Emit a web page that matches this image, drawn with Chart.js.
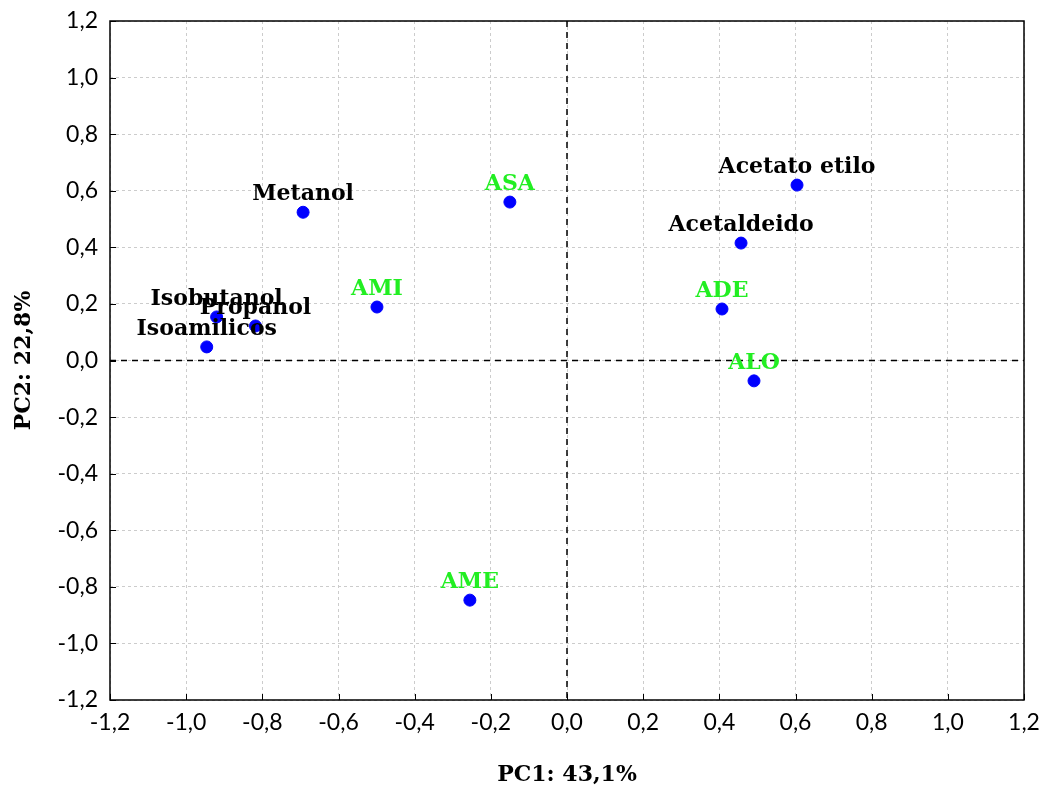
<!DOCTYPE html>
<html>
<head>
<meta charset="utf-8">
<script src="https://cdn.jsdelivr.net/npm/chart.js@4.4.1/dist/chart.umd.min.js"></script>
<style>
  html, body { margin: 0; padding: 0; background: #fff; }
  #wrap { width: 1046px; height: 789px; }
</style>
</head>
<body>
<div id="wrap"><canvas id="pcaChart" width="1046" height="789"></canvas></div>
<script>
// volatile compounds (loadings)
const varNames = ['Metanol', 'Isobutanol', 'Propanol', 'Isoamilicos', 'Acetaldeido', 'Acetato etilo'];
const varPC1 = [-0.693, -0.920, -0.818, -0.946, 0.457, 0.604];
const varPC2 = [0.524, 0.154, 0.122, 0.048, 0.415, 0.620];

// samples (scores)
const sampleNames = ['ASA', 'AMI', 'ADE', 'ALO', 'AME'];
const samplePC1 = [-0.150, -0.499, 0.407, 0.491, -0.255];
const samplePC2 = [0.560, 0.189, 0.182, -0.072, -0.847];

const axisMin = -1.2;
const axisMax = 1.2;
const axisStep = 0.2;

const tickFont = { family: 'Lato, "Noto Sans", sans-serif', size: 23 };
const serifBold = '"DejaVu Serif", "Liberation Serif", serif';

function toPoints(xs, ys) {
  return xs.map((x, i) => ({ x, y: ys[i] }));
}

function fmt(v) {
  return (Math.round(v * 10) / 10).toFixed(1).replace('.', ',').replace('-0,0', '0,0');
}

/* ================= PLUGIN: frame, zero lines, labels ================= */

const pcaDecor = {
  id: 'pcaDecor',
  beforeDatasetsDraw(chart) {
    const { ctx, chartArea: a, scales: { x, y } } = chart;
    ctx.save();

    // dashed zero lines
    ctx.strokeStyle = '#000';
    ctx.lineWidth = 1.5;
    ctx.setLineDash([6, 5]);
    const x0 = x.getPixelForValue(0);
    const y0 = y.getPixelForValue(0);
    ctx.beginPath();
    ctx.moveTo(x0, a.top); ctx.lineTo(x0, a.bottom);
    ctx.moveTo(a.left, y0); ctx.lineTo(a.right, y0);
    ctx.stroke();

    // inward tick marks
    ctx.setLineDash([]);
    ctx.lineWidth = 1;
    ctx.beginPath();
    x.ticks.forEach(t => {
      const px = Math.round(x.getPixelForValue(t.value)) + 0.5;
      ctx.moveTo(px, a.bottom); ctx.lineTo(px, a.bottom - 6);
    });
    y.ticks.forEach(t => {
      const py = Math.round(y.getPixelForValue(t.value)) + 0.5;
      ctx.moveTo(a.left, py); ctx.lineTo(a.left + 6, py);
    });
    ctx.stroke();

    // frame
    ctx.lineWidth = 1.5;
    ctx.strokeRect(a.left, a.top, a.right - a.left, a.bottom - a.top);
    ctx.restore();
  },
  afterDatasetsDraw(chart) {
    const { ctx } = chart;
    ctx.save();
    ctx.font = 'bold 22px ' + serifBold;
    ctx.textAlign = 'center';
    ctx.textBaseline = 'alphabetic';
    chart.data.datasets.forEach((ds, di) => {
      const meta = chart.getDatasetMeta(di);
      ctx.fillStyle = ds.labelColor;
      meta.data.forEach((pt, i) => {
        ctx.fillText(ds.names[i], pt.x, pt.y - 12);
      });
    });
    ctx.restore();
  }
};

/* ================= CHART ================= */

new Chart(document.getElementById('pcaChart'), {
  type: 'scatter',
  data: {
    datasets: [
      {
        label: 'Variables',
        names: varNames,
        labelColor: '#000000',
        data: toPoints(varPC1, varPC2),
        backgroundColor: '#0000ff',
        borderColor: '#0000ff',
        pointRadius: 6,
        pointHoverRadius: 6
      },
      {
        label: 'Amostras',
        names: sampleNames,
        labelColor: '#22ee22',
        data: toPoints(samplePC1, samplePC2),
        backgroundColor: '#0000ff',
        borderColor: '#0000ff',
        pointRadius: 6,
        pointHoverRadius: 6
      }
    ]
  },
  options: {
    responsive: false,
    animation: false,
    layout: { padding: { top: 21, right: 22, left: 0, bottom: 0 } },
    plugins: {
      legend: { display: false },
      tooltip: { enabled: false }
    },
    scales: {
      x: {
        type: 'linear',
        min: axisMin,
        max: axisMax,
        afterFit(scale) {
          scale.height = 89;
          scale.paddingLeft = 0;
          scale.paddingRight = 0;
        },
        ticks: {
          stepSize: axisStep,
          color: '#000',
          font: tickFont,
          padding: 9,
          maxRotation: 0,
          callback: v => fmt(v)
        },
        grid: {
          color: '#cccccc',
          lineWidth: 1,
          tickLength: 0,
          drawTicks: false
        },
        border: { display: false, dash: [3, 3] },
        title: {
          display: true,
          text: 'PC1: 43,1%',
          color: '#000',
          font: { family: serifBold, size: 22, weight: 'bold' },
          padding: { top: 0, bottom: 1 }
        }
      },
      y: {
        type: 'linear',
        min: axisMin,
        max: axisMax,
        afterFit(scale) {
          scale.width = 110;
          scale.paddingTop = 0;
          scale.paddingBottom = 0;
        },
        ticks: {
          stepSize: axisStep,
          color: '#000',
          font: tickFont,
          padding: 12,
          callback: v => fmt(v)
        },
        grid: {
          color: '#cccccc',
          lineWidth: 1,
          tickLength: 0,
          drawTicks: false
        },
        border: { display: false, dash: [3, 3] },
        title: {
          display: true,
          text: 'PC2: 22,8%',
          color: '#000',
          font: { family: serifBold, size: 22, weight: 'bold' },
          padding: { top: 11, bottom: 0 }
        }
      }
    }
  },
  plugins: [pcaDecor]
});
</script>
</body>
</html>
